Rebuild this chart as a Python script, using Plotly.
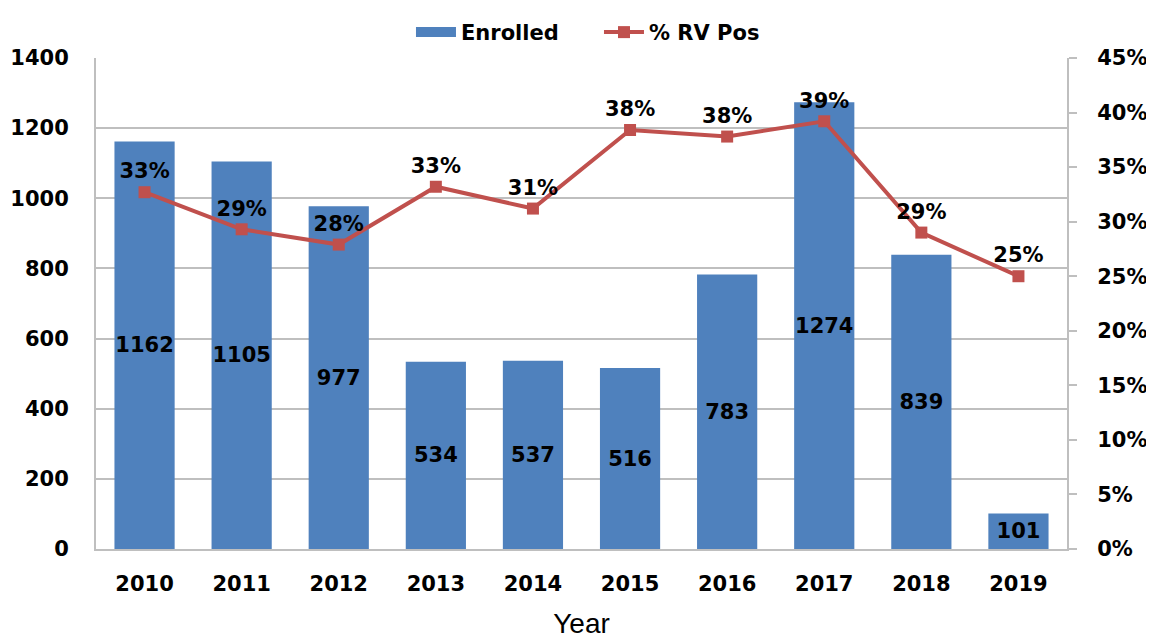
import plotly.graph_objects as go

years = ["2010", "2011", "2012", "2013", "2014", "2015", "2016", "2017", "2018", "2019"]
enrolled = [1162, 1105, 977, 534, 537, 516, 783, 1274, 839, 101]
rv_pos = [0.327, 0.293, 0.279, 0.332, 0.312, 0.384, 0.378, 0.392, 0.290, 0.250]

BLUE = "#4F81BD"
RED = "#C0504D"
GRID = "#BFBFBF"
FONT = "DejaVu Sans"

fig = go.Figure()
fig.add_trace(go.Bar(
    x=years, y=enrolled, name="Enrolled", showlegend=False,
    marker=dict(color=BLUE, line=dict(width=0)),
    text=[str(v) for v in enrolled],
    textposition="inside", insidetextanchor="middle", textangle=0,
    textfont=dict(family=FONT, size=21, color="black", weight="bold"),
    yaxis="y",
))
# legend entry for the bars (wide rectangle swatch)
fig.add_trace(go.Scatter(
    x=[None], y=[None], name="Enrolled", mode="lines",
    line=dict(color=BLUE, width=15), yaxis="y",
))
fig.add_trace(go.Scatter(
    x=years, y=rv_pos, name="% RV Pos",
    mode="lines+markers+text",
    line=dict(color=RED, width=4),
    marker=dict(symbol="square", size=12, color=RED),
    texttemplate="%{y:.0%}", textposition="top center",
    textfont=dict(family=FONT, size=21, color="black", weight="bold"),
    yaxis="y2",
))

tickfont = dict(family=FONT, size=21, color="black", weight="bold")
fig.update_layout(
    width=1146, height=631,
    margin=dict(l=88, r=87, t=50, b=90, autoexpand=False),
    paper_bgcolor="white", plot_bgcolor="white",
    bargap=0.38,
    uniformtext=dict(minsize=21, mode="show"),
    showlegend=True,
    legend=dict(orientation="h", x=0.518, xanchor="center", y=1.052, yanchor="middle",
                font=dict(family=FONT, size=21, color="black", weight="bold"),
                traceorder="normal", itemwidth=40, entrywidth=133, entrywidthmode="pixels"),
    xaxis=dict(
        range=[-0.5, len(years) - 0.5],
        showline=True, linecolor=GRID, linewidth=2, ticks="", showgrid=False,
        tickfont=tickfont, ticklabelstandoff=15,
        title=dict(text="Year", font=dict(family="Liberation Sans", size=28, color="black"), standoff=19),
    ),
    yaxis=dict(
        range=[0, 1400], dtick=200, showgrid=True, gridcolor=GRID, gridwidth=1.5,
        showline=True, linecolor=GRID, linewidth=2, ticks="", zeroline=False,
        tickfont=tickfont, ticklabelstandoff=21,
    ),
    yaxis2=dict(
        range=[0, 0.45], dtick=0.05, tickformat=".0%", overlaying="y", side="right",
        showgrid=False, showline=True, linecolor=GRID, linewidth=2, zeroline=False,
        ticks="outside", ticklen=8, tickcolor=GRID, tickwidth=1.5,
        tickfont=tickfont, ticklabelstandoff=16,
    ),
)

fig.write_html("out.html")
